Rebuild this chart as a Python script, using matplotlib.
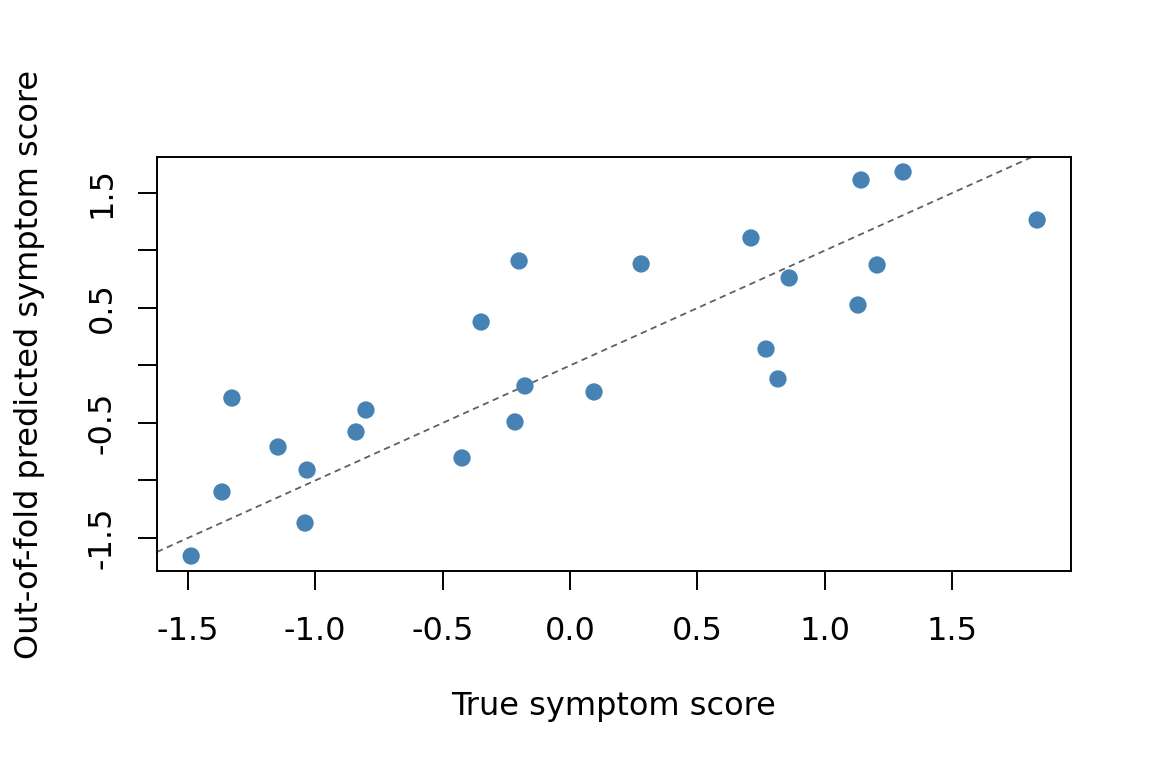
import matplotlib
matplotlib.use("Agg")
import matplotlib.pyplot as plt

true_score = [-1.487, -1.366, -1.327, -1.146, -1.032, -1.040, -0.840, -0.801,
              -0.424, -0.349, -0.200, -0.216, -0.177, 0.094, 0.279, 0.710,
              0.769, 0.860, 0.816, 1.130, 1.142, 1.205, 1.307, 1.833]
pred_score = [-1.657, -1.100, -0.283, -0.709, -0.909, -1.370, -0.578, -0.387,
              -0.804, 0.378, 0.909, -0.491, -0.178, -0.230, 0.883, 1.109,
              0.143, 0.761, -0.117, 0.526, 1.613, 0.874, 1.683, 1.265]
xticks = [-1.5, -1.0, -0.5, 0.0, 0.5, 1.0, 1.5]
xticklabels = ["-1.5", "-1.0", "-0.5", "0.0", "0.5", "1.0", "1.5"]
yticks = [-1.5, -1.0, -0.5, 0.0, 0.5, 1.0, 1.5]
yticklabels = ["-1.5", "", "-0.5", "", "0.5", "", "1.5"]

plt.rcParams['font.family'] = ['DejaVu Sans']
fig = plt.figure(figsize=(11.52, 7.68), dpi=100)
ax = fig.add_axes([157/1152, 1-571/768, (1071-157)/1152, (571-157)/768])

ax.axline((0, 0), slope=1, color="#606060", linestyle=(0, (3.5, 2.5)), linewidth=1.3, zorder=1)
ax.scatter(true_score, pred_score, s=155, color="#4682B4", edgecolors="none", zorder=2)

ax.set_xlim(-1.621, 1.966)
ax.set_ylim(-1.787, 1.813)
ax.set_xticks(xticks)
ax.set_xticklabels(xticklabels)
ax.set_yticks(yticks)
ax.set_yticklabels(yticklabels, rotation=90, va="center")
ax.tick_params(axis="both", length=13.5, width=1.4, labelsize=23, direction="out")
ax.tick_params(axis="x", pad=19)
ax.tick_params(axis="y", pad=15)
for s in ax.spines.values():
    s.set_linewidth(1.4)
ax.set_xlabel("True symptom score", fontsize=23, labelpad=31.5)
ax.set_ylabel("Out-of-fold predicted symptom score", fontsize=23, labelpad=30)

fig.savefig("out.png", dpi=100)
